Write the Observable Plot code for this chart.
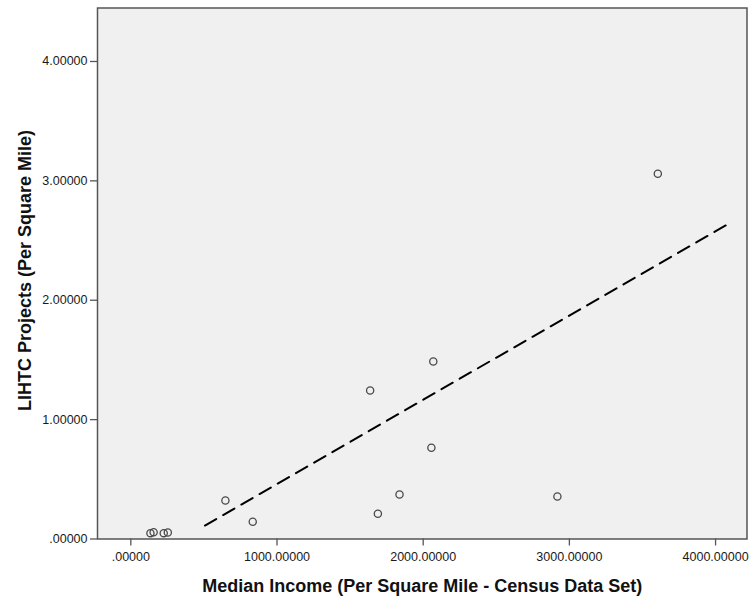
<!DOCTYPE html>
<html>
<head>
<meta charset="utf-8">
<script src="https://cdn.jsdelivr.net/npm/d3@7"></script>
<script src="https://cdn.jsdelivr.net/npm/@observablehq/plot@0.6"></script>
<style>
  html, body { margin: 0; padding: 0; background: #ffffff; }
  #chart svg { display: block; }
</style>
</head>
<body>
<div id="chart"></div>
<script>
// Data
const incomeX = [134, 156, 225, 253, 647, 834, 1637, 2069, 2056, 1838, 1690, 3605, 2918];
const projectsY = [0.049, 0.057, 0.049, 0.054, 0.322, 0.144, 1.244, 1.487, 0.764, 0.373, 0.211, 3.059, 0.356];
// Fit line end points (as drawn)
const fitX = [507, 4080];
const fitY = [0.113, 2.634];
// Tick values
const xTicks = [0, 1000, 2000, 3000, 4000];
const yTicks = [0, 1, 2, 3, 4];
const xTitle = "Median Income (Per Square Mile - Census Data Set)";
const yTitle = "LIHTC Projects (Per Square Mile)";

const points = incomeX.map((x, i) => ({x, y: projectsY[i]}));
const fit = fitX.map((x, i) => ({x, y: fitY[i]}));
const fmt = d => d3.format(".5f")(d).replace(/^0\./, ".");

const chart = Plot.plot({
  width: 750,
  height: 596,
  marginLeft: 97,
  marginRight: 3.5,
  marginTop: 7.5,
  marginBottom: 57.5,
  style: {fontFamily: "'Liberation Sans', Arial, sans-serif", fontSize: "12.5px", color: "#1a1a1a", background: "#ffffff"},
  x: {domain: [-228, 4215]},
  y: {domain: [0, 4.448]},
  marks: [
    Plot.frame({fill: "#f0f0f0"}),
    Plot.line(fit, {x: "x", y: "y", stroke: "#000", strokeWidth: 2, strokeDasharray: "13,8"}),
    Plot.dot(points, {x: "x", y: "y", r: 3.6, stroke: "#4a4a4a", strokeWidth: 1.3, fill: "none"}),
    Plot.frame({stroke: "#555", strokeWidth: 1.5}),
    Plot.axisX({ticks: xTicks, tickFormat: fmt, tickSize: 7, tickPadding: 6, stroke: "#555", strokeWidth: 1.3, label: null}),
    Plot.axisY({ticks: yTicks, tickFormat: fmt, tickSize: 7, tickPadding: 3, stroke: "#555", strokeWidth: 1.3, label: null}),
    Plot.text([xTitle], {frameAnchor: "bottom", lineAnchor: "bottom", textAnchor: "middle", text: d => d, dy: 52.5, fontSize: 18, fontWeight: "bold", fill: "#111"}),
    Plot.text([yTitle], {frameAnchor: "left", lineAnchor: "bottom", textAnchor: "middle", text: d => d, rotate: -90, dx: -67, dy: -3, fontSize: 18, fontWeight: "bold", fill: "#111"})
  ]
});
document.getElementById("chart").appendChild(chart);
</script>
</body>
</html>
